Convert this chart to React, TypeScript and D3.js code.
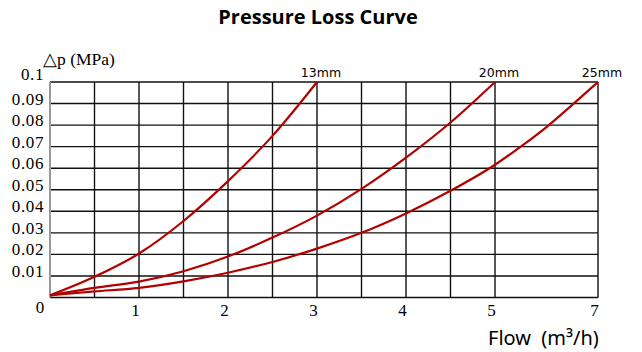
import React from "react";
import * as d3 from "d3";

const xTickValues = [0, 1, 2, 3, 4, 5, 7];
const xGridValues = [0, 0.5, 1, 1.5, 2, 2.5, 3, 3.5, 4, 4.5, 5, 7];
const yTickValues = [0, 0.01, 0.02, 0.03, 0.04, 0.05, 0.06, 0.07, 0.08, 0.09, 0.1];

const flow13 = [0, 0.5, 1, 1.5, 2, 2.5, 3];
const dp13 = [0.001, 0.0096, 0.0204, 0.0355, 0.054, 0.075, 0.1];

const flow20 = [0, 0.5, 1, 1.5, 2, 2.5, 3, 3.5, 4, 4.5, 5];
const dp20 = [0.001, 0.0045, 0.0074, 0.0122, 0.019, 0.0278, 0.038, 0.0504, 0.0649, 0.0812, 0.1];

const flow25 = [0, 0.5, 1, 1.5, 2, 2.5, 3, 3.5, 4, 4.5, 5, 5.5, 6, 6.5, 7];
const dp25 = [0.001, 0.0028, 0.0045, 0.0075, 0.0115, 0.0165, 0.0227, 0.03, 0.039, 0.0495, 0.0616, 0.07, 0.0791, 0.0894, 0.1];

const seriesNames = ["13mm", "20mm", "25mm"];
const seriesFlows = [flow13, flow20, flow25];
const seriesDps = [dp13, dp20, dp25];

export default function App() {
  const W = 642;
  const H = 352;
  const x = d3.scaleLinear().domain([0, 5, 7]).range([50, 495, 598]);
  const y = d3.scaleLinear().domain([0, 0.1]).range([297.5, 82]);
  const line = d3
    .line<[number, number]>()
    .x((d) => x(d[0]))
    .y((d) => y(d[1]))
    .curve(d3.curveMonotoneX);

  const serif = "'Liberation Serif', 'Times New Roman', serif";

  return (
    <svg
      width={W}
      height={H}
      style={{ position: "absolute", left: 0, top: 0, background: "#fff" }}
    >
      <rect x={0} y={0} width={W} height={H} fill="#fff" />
      <text
        x={318}
        y={24}
        textAnchor="middle"
        fontFamily="'Open Sans', sans-serif"
        fontWeight="bold"
        fontSize={20}
        fill="#000"
      >
        Pressure Loss Curve
      </text>

      {/* horizontal grid */}
      {yTickValues.map((v) => (
        <line
          key={"h" + v}
          x1={x(0)}
          x2={x(7)}
          y1={y(v)}
          y2={y(v)}
          stroke="#111"
          strokeWidth={1.4}
        />
      ))}
      {/* vertical grid */}
      {xGridValues.map((v) => (
        <line
          key={"v" + v}
          x1={x(v)}
          x2={x(v)}
          y1={y(0)}
          y2={y(0.1)}
          stroke={v === 0 ? "#999" : "#111"}
          strokeWidth={v === 0 ? 2 : 1.4}
        />
      ))}

      {/* curves */}
      {seriesNames.map((name, i) => {
        const pts: [number, number][] = seriesFlows[i].map((f, j) => [f, seriesDps[i][j]]);
        return (
          <path
            key={name}
            d={line(pts) || ""}
            fill="none"
            stroke="#b30000"
            strokeWidth={2.2}
          />
        );
      })}

      {/* curve labels */}
      {seriesNames.map((name, i) => {
        const fl = seriesFlows[i];
        const lastX = fl[fl.length - 1];
        return (
          <text
            key={"l" + name}
            x={x(lastX) + 4}
            y={77}
            textAnchor="middle"
            fontFamily="'DejaVu Sans', sans-serif"
            fontSize={12.5}
            fill="#000"
          >
            {name}
          </text>
        );
      })}

      {/* y tick labels */}
      {yTickValues.map((v) =>
        v === 0 ? (
          <text key={"yl" + v} x={40} y={313} textAnchor="middle" fontFamily={serif} fontSize={17} fill="#000">
            0
          </text>
        ) : (
          <text
            key={"yl" + v}
            x={44}
            y={v === 0.1 ? y(v) - 2.5 : y(v) + 1}
            textAnchor="end"
            fontFamily={serif}
            fontSize={17}
            letterSpacing={0.6}
            fill="#000"
          >
            {d3.format("")(+v.toFixed(2))}
          </text>
        )
      )}

      {/* x tick labels */}
      {xTickValues
        .filter((v) => v !== 0)
        .map((v) => (
          <text
            key={"xl" + v}
            x={x(v) - 3.5}
            y={316}
            textAnchor="middle"
            fontFamily={serif}
            fontSize={17}
            fill="#000"
          >
            {v}
          </text>
        ))}

      <text x={43} y={65} fontFamily={serif} fontSize={17.5} fill="#000">
        △p (MPa)
      </text>

      <text x={488} y={345} fontFamily="'Noto Sans', sans-serif" fontSize={20} fill="#000" style={{ whiteSpace: "pre" }}>
        {"Flow  (m³/h)"}
      </text>
    </svg>
  );
}
